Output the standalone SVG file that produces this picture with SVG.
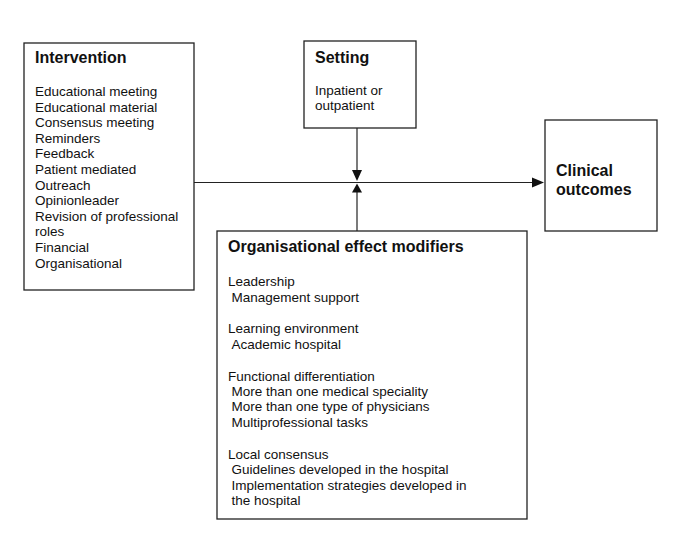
<svg xmlns="http://www.w3.org/2000/svg" width="685" height="541" viewBox="0 0 685 541">
<defs>
<style>
.box{fill:#fff;stroke:#222;stroke-width:1.3}
.t{font-family:"Liberation Sans",Arial,sans-serif;font-weight:bold;font-size:16px;fill:#111}
.b{font-family:"Liberation Sans",Arial,sans-serif;font-size:13.5px;fill:#111}
.ln{stroke:#222;stroke-width:1.2;fill:none}
.ah{fill:#111}
</style>
</defs>
<rect width="685" height="541" fill="#fff"/>
<g id="connectors">
<line class="ln" x1="194" y1="182.5" x2="533" y2="182.5"/>
<polygon class="ah" points="544,182.5 532,177.5 532,187.5"/>
<line class="ln" x1="357" y1="128" x2="357" y2="170"/>
<polygon class="ah" points="357,181 352,170 362,170"/>
<line class="ln" x1="357" y1="192" x2="357" y2="231"/>
<polygon class="ah" points="357,183.5 352,192.5 362,192.5"/>
</g>
<g id="intervention">
<rect class="box" x="24" y="43" width="170" height="247"/>
<text class="t" x="35" y="63">Intervention</text>
<text class="b" x="35" y="96">Educational meeting</text>
<text class="b" x="35" y="111.6">Educational material</text>
<text class="b" x="35" y="127.2">Consensus meeting</text>
<text class="b" x="35" y="142.8">Reminders</text>
<text class="b" x="35" y="158.4">Feedback</text>
<text class="b" x="35" y="174">Patient mediated</text>
<text class="b" x="35" y="189.6">Outreach</text>
<text class="b" x="35" y="205.2">Opinionleader</text>
<text class="b" x="35" y="220.8">Revision of professional</text>
<text class="b" x="35" y="236.4">roles</text>
<text class="b" x="35" y="252">Financial</text>
<text class="b" x="35" y="267.6">Organisational</text>
</g>
<g id="setting">
<rect class="box" x="304" y="41" width="112" height="87"/>
<text class="t" x="315" y="63">Setting</text>
<text class="b" x="315" y="95">Inpatient or</text>
<text class="b" x="315" y="110">outpatient</text>
</g>
<g id="clinical">
<rect class="box" x="545" y="120" width="112" height="111"/>
<text class="t" x="556" y="176">Clinical</text>
<text class="t" x="556" y="195">outcomes</text>
</g>
<g id="modifiers">
<rect class="box" x="217" y="231" width="310" height="288"/>
<text class="t" x="228" y="252">Organisational effect modifiers</text>
<text class="b" x="228" y="286">Leadership</text>
<text class="b" x="231.5" y="301.5">Management support</text>
<text class="b" x="228" y="333">Learning environment</text>
<text class="b" x="231.5" y="348.5">Academic hospital</text>
<text class="b" x="228" y="381">Functional differentiation</text>
<text class="b" x="231.5" y="396">More than one medical speciality</text>
<text class="b" x="231.5" y="411">More than one type of physicians</text>
<text class="b" x="231.5" y="426.5">Multiprofessional tasks</text>
<text class="b" x="228" y="458.5">Local consensus</text>
<text class="b" x="231.5" y="474">Guidelines developed in the hospital</text>
<text class="b" x="231.5" y="489.5">Implementation strategies developed in</text>
<text class="b" x="231.5" y="505">the hospital</text>
</g>
</svg>
